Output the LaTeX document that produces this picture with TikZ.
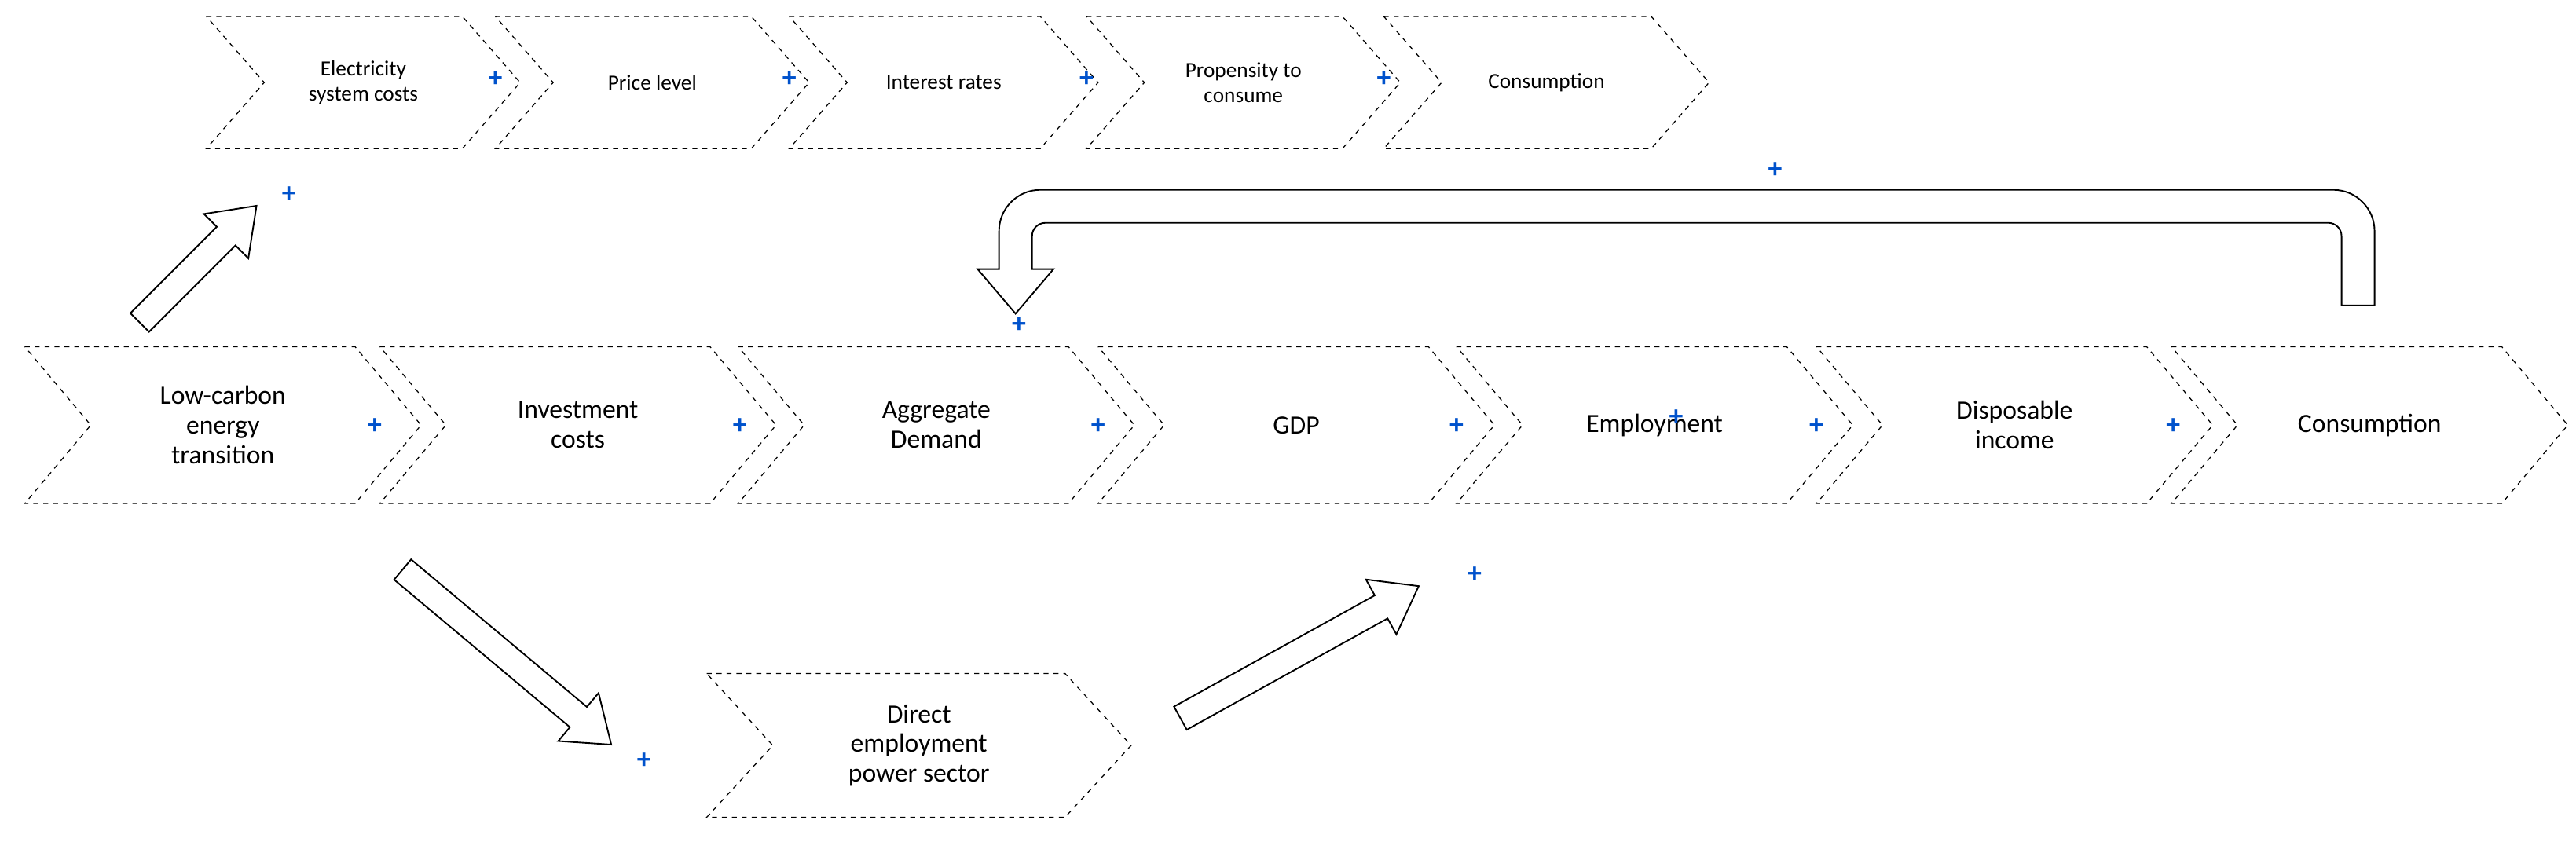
\documentclass[tikz,border=0pt]{standalone}
\usepackage{fontspec}
\setmainfont{Carlito}
\newcommand{\chev}[6]{% name x1 x2(tip) ytop ybot text
  \draw[chevline] (#2,#4) -- ({#3-\dd},#4) -- (#3,{(#4+#5)/2}) -- ({#3-\dd},#5) -- (#2,#5) -- ({#2+\dd},{(#4+#5)/2}) -- cycle;
  \node[lbl] (#1) at ({(#2+#3)/2},{(#4+#5)/2}) {#6};}
\newcommand{\barr}[5]{% name cx cy angle length
  \coordinate (#1) at (#2,#3);
  \begin{scope}[shift={(#1)},rotate=#4]
  \draw[line width=0.9pt,fill=white] ({-#5/2},-8) -- ({#5/2-26},-8) -- ({#5/2-26},-19) -- ({#5/2},0)
     -- ({#5/2-26},19) -- ({#5/2-26},8) -- ({-#5/2},8) -- cycle;
  \end{scope}}
\begin{document}
\begin{tikzpicture}[x=1pt,y=-1pt,
  chevline/.style={draw=black,dashed,line width=0.6pt},
  lbl/.style={align=center,font=\fontsize{16}{18}\selectfont},
  plus/.style={text=blue!60!cyan!80!black,font=\fontsize{17}{17}\selectfont\bfseries,inner sep=0pt}]
\useasboundingbox (0,0) rectangle (1560,510);
% top row
\def\dd{35}
\begin{scope}[lbl/.append style={font=\fontsize{13}{15}\selectfont}]
\chev{t1}{125}{315}{10}{90}{Electricity\\system costs}
\chev{t2}{300}{490}{10}{90}{Price level}
\chev{t3}{478}{665}{10}{90}{Interest rates}
\chev{t4}{658}{848}{10}{90}{Propensity to\\consume}
\chev{t5}{838}{1035}{10}{90}{Consumption}
\end{scope}
% middle row
\def\dd{40}
\chev{m1}{15}{255}{210}{305}{Low-carbon\\energy\\transition}
\chev{m2}{230}{470}{210}{305}{Investment\\costs}
\chev{m3}{447}{687}{210}{305}{Aggregate\\Demand}
\chev{m4}{665}{905}{210}{305}{GDP}
\chev{m5}{882}{1122}{210}{305}{Employment}
\chev{m6}{1100}{1340}{210}{305}{Disposable\\income}
\chev{m7}{1315}{1555}{210}{305}{Consumption}
% bottom
\chev{b1}{428}{685}{408}{495}{Direct\\employment\\power sector}
% plus signs
\foreach \n/\x/\y in {p1/300/48,p2/478/48,p3/658/48,p4/838/48,p5/175/118,p6/1075/103,p7/617/197,
  p8/227/258,p9/448/258,p10/665/258,p11/882/258,p12/1015/253,p13/1100/258,p14/1316/258,p15/893/348,p16/390/461}
  \node[plus] (\n) at (\x,\y) {+};
% block arrows
\barr{a1}{120}{160}{45}{100}
\barr{a2}{307}{398}{-40}{165}
\barr{a3}{787}{395}{29}{165}
% U-turn
\draw[line width=0.9pt,fill=white] (1418,185) -- (1438,185)
  {[rounded corners=25pt] -- (1438,115) -- (605,115)} -- (605,163) -- (592,163) -- (615,190) -- (638,163) -- (625,163)
  {[rounded corners=8pt] -- (625,135) -- (1418,135)} -- cycle;
\end{tikzpicture}
\end{document}
